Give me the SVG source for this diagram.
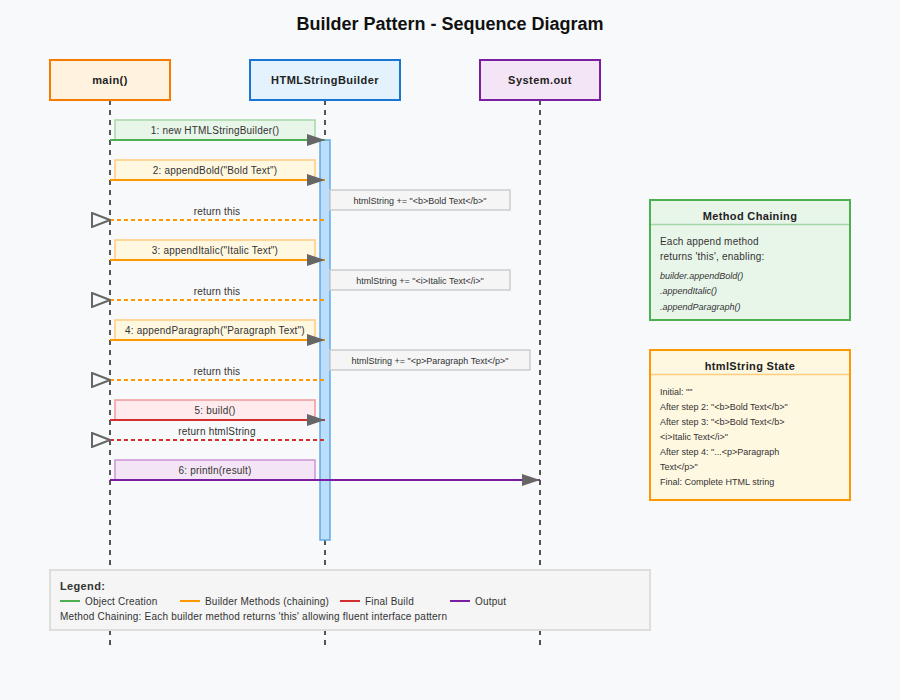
<svg xmlns="http://www.w3.org/2000/svg" width="900" height="700" viewBox="0 0 900 700">
<style>
  text { font-family: "Liberation Sans", Arial, sans-serif; fill: #333; }
  .title { font-size: 18px; font-weight: bold; fill: #111; text-anchor: middle; }
  .actor { font-size: 11px; font-weight: bold; fill: #222; text-anchor: middle; letter-spacing: 0.45px; }
  .lifeline { stroke: #555; stroke-width: 2; stroke-dasharray: 5,5; fill: none; }
  .msg { font-size: 10px; text-anchor: middle; letter-spacing: 0.2px; }
  .note { font-size: 9px; text-anchor: middle; }
  .notebox { fill: #f5f5f5; stroke: #ccc; stroke-width: 1.5; }
  .call { stroke-width: 2; fill: none; marker-end: url(#arrow); }
  .ret { stroke-width: 2; fill: none; stroke-dasharray: 4,3; marker-start: url(#open); }
  .small { font-size: 9px; }
  .body { font-size: 10px; letter-spacing: 0.2px; }
  .ital { font-size: 9px; font-style: italic; }
  .boxtitle { font-size: 11px; font-weight: bold; fill: #222; text-anchor: middle; letter-spacing: 0.35px; }
  .leg { font-size: 10px; letter-spacing: 0.2px; }
</style>
<defs>
  <marker id="arrow" markerUnits="userSpaceOnUse" markerWidth="18" markerHeight="12" refX="18" refY="6" orient="auto">
    <path d="M0,0 L18,6 L0,12 Z" fill="#666"/>
  </marker>
  <marker id="open" markerUnits="userSpaceOnUse" markerWidth="20" markerHeight="16" refX="19" refY="8" orient="auto">
    <path d="M1,1 L19,8 L1,15 Z" fill="none" stroke="#666" stroke-width="2"/>
  </marker>
</defs>
<rect x="0" y="0" width="900" height="700" fill="#f8f9fa"/>
<text class="title" x="450" y="30">Builder Pattern - Sequence Diagram</text>

<g id="lifelines">
  <line class="lifeline" x1="110" y1="100" x2="110" y2="645"/>
  <line class="lifeline" x1="325" y1="100" x2="325" y2="645"/>
  <line class="lifeline" x1="540" y1="100" x2="540" y2="645"/>
</g>

<g id="main">
  <rect x="50" y="60" width="120" height="40" fill="#fff3e0" stroke="#f57c00" stroke-width="2"/>
  <text class="actor" x="110" y="84">main()</text>
</g>
<g id="builder">
  <rect x="250" y="60" width="150" height="40" fill="#e3f2fd" stroke="#1976d2" stroke-width="2"/>
  <text class="actor" x="325" y="84">HTMLStringBuilder</text>
</g>
<g id="systemout">
  <rect x="480" y="60" width="120" height="40" fill="#f3e5f5" stroke="#7b1fa2" stroke-width="2"/>
  <text class="actor" x="540" y="84">System.out</text>
</g>

<g id="activation">
  <rect x="320" y="140" width="10" height="400" fill="#bbdefb" stroke="#64a8e8" stroke-width="1.5"/>
</g>

<g id="connectors">
  <rect x="115" y="120" width="200" height="20" fill="#e8f5e9" stroke="#a5d6a7" stroke-width="1.5"/>
  <text class="msg" x="215" y="134">1: new HTMLStringBuilder()</text>
  <line class="call" x1="110" y1="140" x2="325" y2="140" stroke="#4caf50"/>

  <rect x="115" y="160" width="200" height="20" fill="#fff8e1" stroke="#ffcc80" stroke-width="1.5"/>
  <text class="msg" x="215" y="174">2: appendBold("Bold Text")</text>
  <line class="call" x1="110" y1="180" x2="325" y2="180" stroke="#ff9800"/>

  <rect class="notebox" x="330" y="190" width="180" height="20"/>
  <text class="note" x="420" y="204">htmlString += "&lt;b&gt;Bold Text&lt;/b&gt;"</text>

  <text class="msg" x="217" y="215">return this</text>
  <line class="ret" x1="110" y1="220" x2="325" y2="220" stroke="#ff9800"/>

  <rect x="115" y="240" width="200" height="20" fill="#fff8e1" stroke="#ffcc80" stroke-width="1.5"/>
  <text class="msg" x="215" y="254">3: appendItalic("Italic Text")</text>
  <line class="call" x1="110" y1="260" x2="325" y2="260" stroke="#ff9800"/>

  <rect class="notebox" x="330" y="270" width="180" height="20"/>
  <text class="note" x="420" y="284">htmlString += "&lt;i&gt;Italic Text&lt;/i&gt;"</text>

  <text class="msg" x="217" y="295">return this</text>
  <line class="ret" x1="110" y1="300" x2="325" y2="300" stroke="#ff9800"/>

  <rect x="115" y="320" width="200" height="20" fill="#fff8e1" stroke="#ffcc80" stroke-width="1.5"/>
  <text class="msg" x="215" y="334">4: appendParagraph("Paragraph Text")</text>
  <line class="call" x1="110" y1="340" x2="325" y2="340" stroke="#ff9800"/>

  <rect class="notebox" x="330" y="350" width="200" height="20"/>
  <text class="note" x="430" y="364">htmlString += "&lt;p&gt;Paragraph Text&lt;/p&gt;"</text>

  <text class="msg" x="217" y="375">return this</text>
  <line class="ret" x1="110" y1="380" x2="325" y2="380" stroke="#ff9800"/>

  <rect x="115" y="400" width="200" height="20" fill="#ffebee" stroke="#ef9a9a" stroke-width="1.5"/>
  <text class="msg" x="215" y="414">5: build()</text>
  <line class="call" x1="110" y1="420" x2="325" y2="420" stroke="#d32f2f"/>

  <text class="msg" x="217" y="435">return htmlString</text>
  <line class="ret" x1="110" y1="440" x2="325" y2="440" stroke="#d32f2f"/>

  <rect x="115" y="460" width="200" height="20" fill="#f3e5f5" stroke="#ce93d8" stroke-width="1.5"/>
  <text class="msg" x="215" y="474">6: println(result)</text>
  <line class="call" x1="110" y1="480" x2="540" y2="480" stroke="#7b1fa2"/>
</g>

<g id="method-chaining">
  <rect x="650" y="200" width="200" height="120" fill="#e8f5e9" stroke="#4caf50" stroke-width="2"/>
  <line x1="651" y1="224.5" x2="849" y2="224.5" stroke="#a5d6a7" stroke-width="1.5"/>
  <text class="boxtitle" x="750" y="220">Method Chaining</text>
  <text class="body" x="660" y="245">Each append method</text>
  <text class="body" x="660" y="260">returns 'this', enabling:</text>
  <text class="ital" x="660" y="279">builder.appendBold()</text>
  <text class="ital" x="660" y="294">.appendItalic()</text>
  <text class="ital" x="660" y="310">.appendParagraph()</text>
</g>

<g id="state">
  <rect x="650" y="350" width="200" height="150" fill="#fff8e1" stroke="#ff9800" stroke-width="2"/>
  <line x1="651" y1="374.5" x2="849" y2="374.5" stroke="#ffcc80" stroke-width="1.5"/>
  <text class="boxtitle" x="750" y="370">htmlString State</text>
  <text class="small" x="660" y="395">Initial: ""</text>
  <text class="small" x="660" y="410">After step 2: "&lt;b&gt;Bold Text&lt;/b&gt;"</text>
  <text class="small" x="660" y="425">After step 3: "&lt;b&gt;Bold Text&lt;/b&gt;</text>
  <text class="small" x="660" y="440">&lt;i&gt;Italic Text&lt;/i&gt;"</text>
  <text class="small" x="660" y="455">After step 4: "...&lt;p&gt;Paragraph</text>
  <text class="small" x="660" y="470">Text&lt;/p&gt;"</text>
  <text class="small" x="660" y="485">Final: Complete HTML string</text>
</g>

<g id="legend">
  <rect x="50" y="570" width="600" height="60" fill="#f5f5f5" stroke="#ddd" stroke-width="2"/>
  <text x="60" y="590" font-size="11" font-weight="bold" fill="#222" letter-spacing="0.35">Legend:</text>
  <line x1="60" y1="601" x2="80" y2="601" stroke="#4caf50" stroke-width="2"/>
  <text class="leg" x="85" y="605">Object Creation</text>
  <line x1="180" y1="601" x2="200" y2="601" stroke="#ff9800" stroke-width="2"/>
  <text class="leg" x="205" y="605">Builder Methods (chaining)</text>
  <line x1="340" y1="601" x2="360" y2="601" stroke="#d32f2f" stroke-width="2"/>
  <text class="leg" x="365" y="605">Final Build</text>
  <line x1="450" y1="601" x2="470" y2="601" stroke="#7b1fa2" stroke-width="2"/>
  <text class="leg" x="475" y="605">Output</text>
  <text class="leg" x="60" y="620">Method Chaining: Each builder method returns 'this' allowing fluent interface pattern</text>
</g>
</svg>
